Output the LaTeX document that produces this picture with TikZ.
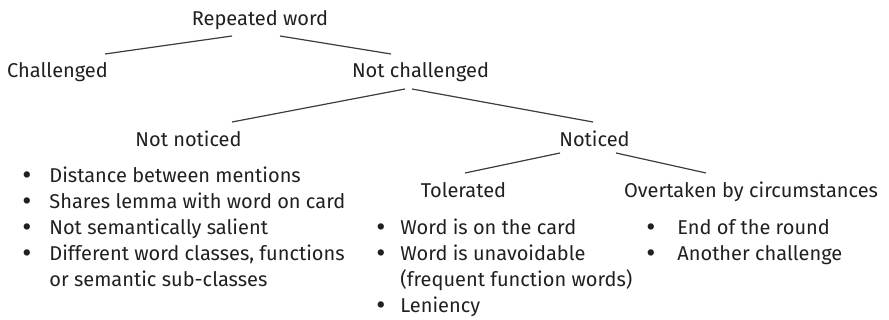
\documentclass[tikz,border=0pt]{standalone}
\usepackage{fontspec}
\setmainfont{Fira Sans}
\usetikzlibrary{calc}
\definecolor{ink}{HTML}{231F20}
\definecolor{rulegray}{HTML}{3C3C3C}
\newcommand{\itembul}[1]{\llap{\raisebox{-0.9pt}{\fontsize{14}{13}\selectfont\textbullet}\hspace{#1}}}

\begin{document}
\begin{tikzpicture}[x=0.5pt, y=-0.5pt,
  lbl/.style={inner sep=0pt, anchor=base, font=\fontsize{10}{13}\selectfont, text=ink},
  lst/.style={inner sep=0pt, anchor=base west, font=\fontsize{10}{13}\selectfont, text=ink},
  branch/.style={draw=rulegray, line width=0.6pt}]
  \useasboundingbox (0,0) rectangle (889,320);
  % tree labels
  \node[lbl] (root) at (260,26) {Repeated word};
  \node[lbl] (chal) at (57.5,78) {Challenged};
  \node[lbl] (nchal) at (420.5,78) {Not challenged};
  \node[lbl] (nnot) at (188.5,147) {Not noticed};
  \node[lbl] (noti) at (594.5,147) {Noticed};
  \node[lbl] (tol) at (463.5,198) {Tolerated};
  \node[lbl] (over) at (751,198) {Overtaken by circumstances};
  % branches
  \draw[branch] ($(root.base)+(-28,10)$) -- ($(chal.base)+(47.5,-24)$);
  \draw[branch] ($(root.base)+(20,10)$) -- ($(nchal.base)+(-29.5,-24)$);
  \draw[branch] ($(nchal.base)+(-15.5,11)$) -- ($(nnot.base)+(43.5,-25)$);
  \draw[branch] ($(nchal.base)+(-8.5,11)$) -- ($(noti.base)+(-1.5,-25)$);
  \draw[branch] ($(noti.base)+(-34.5,6)$) -- ($(tol.base)+(1.5,-25)$);
  \draw[branch] ($(noti.base)+(21.5,6)$) -- ($(over.base)+(-45,-25)$);
  % bullet lists
  \node[lst] (nnlist) at (49,183) {\begin{tabular}[t]{@{}l@{}}
    \itembul{9pt}Distance between mentions\\
    \itembul{9pt}Shares lemma with word on card\\
    \itembul{9pt}Not semantically salient\\
    \itembul{9pt}Different word classes, functions\\
    or semantic sub-classes
  \end{tabular}};
  \node[lst] (tollist) at (400,235) {\begin{tabular}[t]{@{}l@{}}
    \itembul{7.5pt}Word is on the card\\
    \itembul{7.5pt}Word is unavoidable\\
    (frequent function words)\\
    \itembul{7.5pt}Leniency
  \end{tabular}};
  \node[lst] (overlist) at (677,235) {\begin{tabular}[t]{@{}l@{}}
    \itembul{11pt}End of the round\\
    \itembul{11pt}Another challenge
  \end{tabular}};
\end{tikzpicture}
\end{document}
